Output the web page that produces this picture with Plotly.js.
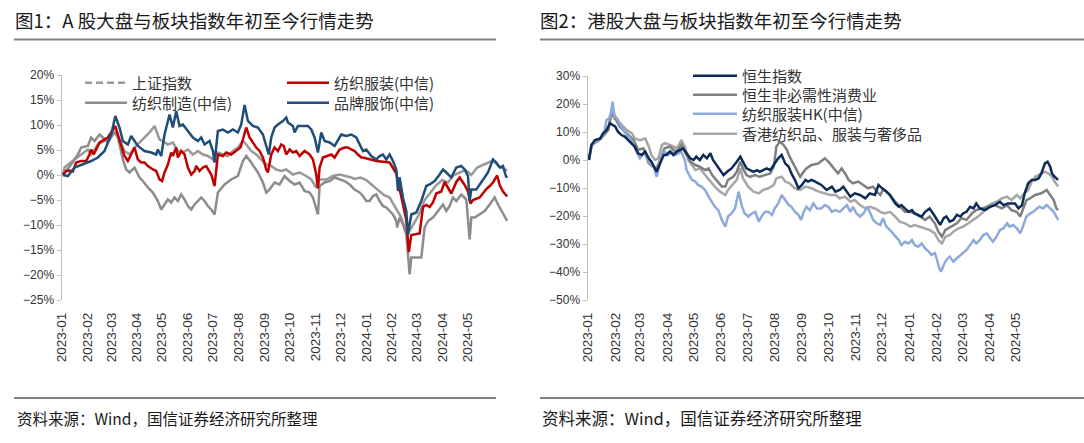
<!DOCTYPE html>
<html><head><meta charset="utf-8">
<script src="https://cdn.plot.ly/plotly-3.0.1.min.js"></script>
<style>
html,body{margin:0;padding:0;background:#fff;width:1084px;height:443px;overflow:hidden}
#c1{position:absolute;left:0;top:0;width:535px;height:443px}
#c2{position:absolute;left:535px;top:0;width:549px;height:443px}
</style></head>
<body><div id="c1"></div><div id="c2"></div>
<script>
// ---------- data: [days since 2023-01-02, % change since start of year] ----------
const monthTickDates = ['2023-01-02','2023-02-02','2023-03-02','2023-04-02','2023-05-02','2023-06-02','2023-07-02','2023-08-02','2023-09-02','2023-10-02','2023-11-02','2023-12-02','2024-01-02','2024-02-02','2024-03-02','2024-04-02','2024-05-02'];
const monthLabels = ['2023-01','2023-02','2023-03','2023-04','2023-05','2023-06','2023-07','2023-08','2023-09','2023-10','2023-11','2023-12','2024-01','2024-02','2024-03','2024-04','2024-05'];

// Figure 1: A-share
const shIndex = [[1,0],[3,1.5],[15,3.1],[23,4.1],[31,5.1],[35,4.1],[43,6.1],[51,6.8],[59,7.8],[63,8.5],[69,7.1],[75,4.8],[81,4.1],[87,5.5],[93,6.5],[99,7.5],[105,8.5],[111,9.8],[114,8.5],[117,7.1],[121,6.8],[127,6.1],[133,6.5],[139,4.8],[145,4.5],[151,5.1],[157,4.1],[163,4.8],[169,4.1],[175,3.8],[181,3.1],[187,4.5],[193,4.1],[199,3.8],[205,4.8],[211,5.5],[217,6.8],[221,6.1],[227,4.8],[233,4.1],[239,3.1],[245,2.1],[251,1.8],[257,1.1],[263,0.8],[269,1.1],[277,0.1],[285,0.5],[293,-0.2],[299,-0.9],[305,-2.5],[309,-0.9],[317,-0.9],[325,-0.2],[333,0.1],[341,-0.2],[347,-0.5],[351,-0.8],[358,-0.5],[365,-1.0],[372,-2.0],[379,-3.0],[386,-4.0],[393,-4.5],[400,-6.5],[407,-8.5],[414,-12.0],[421,-10.0],[428,-8.0],[435,-5.0],[442,-3.5],[449,-2.0],[456,-1.0],[463,-1.5],[470,0.0],[477,0.5],[484,1.0],[491,0.0],[498,1.5],[509,2.3],[517,2.9],[525,1.6],[534,0.9]];
const textileMfg = [[1,0],[11,2.1],[19,4.1],[23,5.5],[31,5.8],[35,7.5],[39,6.8],[45,8.1],[49,7.5],[55,6.5],[61,8.1],[65,8.8],[69,6.1],[73,3.1],[77,1.1],[81,0.5],[87,1.5],[93,-0.5],[97,-1.2],[103,-2.5],[109,-3.5],[115,-5.2],[119,-6.9],[123,-5.9],[127,-4.9],[131,-5.5],[135,-4.5],[139,-5.2],[143,-3.9],[147,-4.9],[151,-6.2],[155,-6.9],[159,-5.9],[163,-5.2],[167,-4.5],[171,-5.2],[175,-6.2],[179,-6.9],[183,-7.9],[187,-3.5],[195,-1.9],[203,-0.9],[211,-0.2],[217,2.8],[221,3.8],[227,2.5],[235,0.5],[241,-1.5],[245,-3.5],[249,-2.9],[255,-1.5],[261,-1.9],[267,-0.2],[273,-1.2],[279,-1.9],[285,-1.5],[291,-3.2],[297,-3.5],[301,-4.5],[307,-7.9],[309,-2.2],[315,-1.5],[321,-1.2],[327,-0.5],[333,-0.9],[339,-1.2],[345,-1.9],[351,-2.9],[357,-3.5],[361,-4.2],[365,-5.2],[369,-5.2],[373,-4.2],[377,-3.9],[381,-5.2],[385,-6.2],[389,-6.5],[393,-7.2],[397,-7.9],[401,-9.2],[402,-10.5],[405,-8.5],[409,-9.9],[413,-11.9],[415,-15.9],[417,-19.9],[419,-16.5],[425,-16.5],[431,-16.5],[435,-10.5],[439,-9.2],[445,-8.5],[451,-7.2],[457,-5.9],[461,-7.2],[465,-6.2],[469,-4.5],[473,-5.2],[479,-3.9],[485,-4.9],[489,-12.9],[491,-8.5],[495,-8.5],[501,-7.9],[507,-7.2],[513,-5.9],[519,-4.5],[523,-5.9],[527,-7.2],[531,-8.5],[534,-9.2]];
const textileApparel = [[1,0],[5,0.8],[9,0.9],[13,0.7],[17,2.5],[23,2.8],[29,2.8],[33,4.1],[35,5.1],[38,4.1],[41,5.1],[45,6.5],[55,7.5],[64,9.8],[67,8.1],[71,6.1],[75,3.8],[79,2.8],[83,4.1],[87,5.5],[91,3.1],[95,2.5],[99,2.5],[103,1.8],[109,1.1],[113,0.8],[117,-0.9],[120,-1.2],[123,0.5],[127,2.1],[131,4.5],[133,3.8],[137,5.5],[139,3.5],[143,4.8],[147,4.1],[151,1.5],[155,0.1],[159,0.8],[161,1.8],[165,0.8],[169,1.5],[173,1.8],[179,0.1],[183,-2.2],[187,4.1],[193,3.8],[197,4.5],[203,4.1],[209,4.8],[214,5.5],[217,7.1],[221,9.5],[225,7.5],[229,6.5],[233,5.5],[237,4.8],[241,3.5],[245,1.1],[247,0.5],[251,4.1],[255,5.5],[259,4.8],[263,6.1],[266,5.8],[269,4.1],[273,5.1],[277,4.5],[281,4.8],[285,3.8],[291,4.8],[297,4.1],[301,3.1],[305,0.1],[307,-2.7],[309,1.5],[313,3.5],[319,3.8],[323,4.1],[327,3.5],[333,5.1],[339,5.5],[343,5.5],[347,5.1],[351,4.8],[355,4.1],[359,3.5],[361,3.5],[377,2.8],[393,2.5],[401,0.3],[413,-9.0],[416,-15.4],[419,-12.0],[429,-11.7],[433,-6.4],[437,-6.0],[441,-6.4],[445,-5.5],[449,-3.7],[455,-3.3],[459,-1.4],[463,-2.5],[467,-3.7],[473,-1.4],[477,-0.5],[483,-2.0],[487,-3.3],[490,-5.7],[493,-5.0],[501,-4.5],[509,-2.8],[513,-2.2],[517,-1.5],[522,-0.1],[525,-2.0],[529,-3.3],[534,-4.3]];
const brandApparel = [[1,0],[7,-0.2],[15,1.5],[25,2.1],[35,2.8],[43,3.5],[51,4.8],[59,8.1],[64,11.8],[69,9.5],[73,6.8],[79,6.1],[83,7.8],[91,5.8],[99,4.8],[107,4.5],[113,4.1],[115,5.1],[119,3.8],[123,8.1],[129,12.1],[133,9.5],[137,12.8],[141,9.8],[145,10.1],[151,8.8],[157,7.5],[163,6.8],[167,7.5],[171,6.1],[177,6.8],[181,4.8],[183,2.5],[187,8.8],[193,9.1],[199,8.5],[205,9.1],[211,8.5],[215,10.1],[219,14.0],[223,10.8],[229,9.8],[235,9.5],[241,8.1],[245,5.5],[248,4.1],[251,7.5],[255,9.5],[259,10.1],[265,10.8],[269,11.5],[271,10.5],[277,9.8],[279,8.5],[283,9.8],[291,9.8],[295,9.8],[299,9.1],[303,7.5],[307,4.5],[311,8.5],[315,6.8],[321,6.5],[327,5.8],[331,7.1],[335,8.1],[341,7.8],[347,8.1],[353,7.5],[357,6.1],[361,4.8],[365,5.1],[371,3.8],[377,3.1],[381,3.8],[385,4.1],[389,3.1],[393,4.1],[397,2.8],[401,1.1],[403,-3.2],[405,-0.5],[409,-4.5],[413,-7.2],[415,-11.9],[419,-7.9],[425,-7.5],[431,-5.2],[437,-2.2],[441,-1.9],[447,-1.2],[453,0.1],[457,1.1],[461,0.5],[467,-0.5],[473,1.5],[479,1.8],[483,1.1],[487,-0.2],[489,-5.2],[491,-2.9],[497,-2.9],[501,-1.9],[507,-0.5],[511,0.5],[517,3.1],[521,2.5],[525,1.5],[529,1.8],[533,-0.5],[534,-0.2]];

// Figure 2: Hong Kong
const hangSeng = [[1,0],[4,5.4],[8,7.1],[14,7.7],[17,9.5],[21,10.7],[25,13.1],[31,11.9],[34,10.1],[38,8.9],[42,8.3],[46,7.1],[50,6.0],[53,4.8],[57,2.4],[61,1.8],[65,3.0],[69,0.6],[72,-0.6],[76,-3.0],[78,-4.2],[82,-1.2],[86,1.8],[89,1.8],[93,3.0],[97,1.8],[101,3.0],[105,3.6],[108,4.2],[112,2.4],[116,0.6],[120,0],[123,1.2],[127,0],[131,1.8],[135,0.6],[139,2.4],[142,0],[146,-1.8],[150,-3.6],[154,-5.4],[158,-4.2],[163,-3.0],[169,-0.6],[173,1.2],[176,-0.6],[180,-3.0],[184,-3.6],[188,-4.2],[192,-3.6],[195,-4.2],[199,-3.6],[203,-3.0],[207,-3.6],[211,-1.8],[216,0.6],[220,1.8],[224,-1.2],[228,-2.4],[231,-4.8],[235,-7.1],[239,-10.1],[243,-8.9],[247,-7.1],[250,-7.7],[254,-7.1],[258,-7.7],[262,-8.3],[265,-8.9],[271,-10.7],[277,-9.5],[281,-11.3],[286,-10.7],[290,-9.5],[294,-11.3],[298,-13.1],[303,-11.9],[309,-12.5],[315,-13.7],[320,-11.9],[326,-12.5],[330,-8.9],[334,-10.1],[337,-10.7],[343,-12.5],[349,-15.5],[353,-16.7],[356,-16.1],[360,-17.3],[364,-18.5],[368,-17.9],[371,-19.1],[375,-19.6],[379,-20.2],[383,-18.5],[388,-17.3],[392,-19.1],[396,-21.4],[400,-23.2],[404,-20.8],[407,-20.2],[411,-22.0],[415,-21.4],[419,-19.6],[423,-20.2],[426,-19.1],[430,-18.5],[434,-16.7],[438,-17.3],[441,-15.5],[445,-17.3],[451,-17.9],[457,-16.7],[462,-16.1],[468,-14.9],[472,-16.1],[477,-15.5],[485,-15.5],[489,-17.3],[493,-16.1],[496,-11.9],[500,-8.3],[504,-7.1],[508,-7.1],[512,-6.5],[515,-4.8],[519,-1.2],[522,-0.6],[525,-2.4],[527,-4.8],[530,-6.0],[534,-7.1]];
const hsConsDisc = [[1,0],[4,5.4],[12,7.1],[17,8.9],[23,10.7],[27,17.3],[29,15.5],[33,13.7],[36,11.9],[40,10.7],[46,8.9],[52,7.1],[57,3.6],[63,4.2],[69,-1.2],[74,-2.4],[78,-3.0],[82,0],[87,4.2],[93,4.8],[97,3.6],[101,3.0],[106,5.4],[110,3.0],[116,-0.6],[122,-1.8],[127,-2.4],[133,-3.6],[137,-3.0],[141,-5.4],[146,-7.1],[152,-9.5],[156,-9.5],[159,-7.1],[165,-6.0],[169,-4.2],[173,-0.6],[176,-3.0],[180,-5.4],[184,-6.0],[190,-5.4],[195,-6.0],[201,-5.4],[207,-4.8],[211,-2.4],[214,4.8],[218,6.5],[222,5.4],[226,3.6],[229,1.2],[233,-1.2],[237,-3.6],[241,-6.0],[245,-4.2],[248,-3.0],[254,-1.8],[262,-1.2],[264,-0.6],[269,0.6],[273,-0.6],[279,-3.0],[284,-4.8],[288,-3.0],[292,-4.8],[296,-7.1],[301,-8.3],[307,-7.7],[313,-8.9],[318,-10.1],[324,-9.5],[328,-11.3],[332,-12.5],[335,-10.7],[339,-11.3],[343,-12.5],[349,-14.9],[354,-16.7],[360,-18.5],[366,-18.5],[371,-19.1],[377,-20.2],[383,-21.4],[388,-20.2],[394,-22.6],[398,-25.6],[402,-27.4],[406,-25.0],[409,-24.4],[413,-23.8],[419,-22.6],[424,-20.8],[430,-21.4],[436,-19.1],[441,-17.9],[447,-17.3],[455,-16.7],[462,-16.1],[470,-17.3],[476,-16.1],[481,-17.9],[487,-18.5],[491,-20.2],[494,-17.9],[498,-14.3],[502,-13.7],[508,-12.5],[515,-11.9],[521,-10.7],[525,-12.5],[529,-14.3],[532,-17.3],[534,-17.9]];
const hkTextileCiti = [[1,0],[4,4.8],[8,6.6],[14,7.7],[17,8.9],[19,10.7],[21,14.3],[24,14.9],[26,16.7],[28,20.8],[30,15.5],[33,14.9],[36,13.1],[40,10.7],[44,8.9],[48,7.7],[52,5.4],[55,3.0],[59,0.6],[63,2.4],[67,1.2],[70,-1.2],[74,-1.8],[78,-6.0],[81,-1.8],[84,1.8],[87,3.0],[91,1.8],[95,3.0],[99,1.8],[103,2.4],[106,3.0],[110,0],[112,-3.6],[115,-5.4],[118,-7.1],[122,-7.7],[125,-8.9],[129,-9.5],[133,-10.7],[137,-13.1],[141,-14.9],[144,-16.7],[148,-17.9],[152,-21.4],[156,-23.8],[159,-20.2],[163,-19.1],[167,-17.3],[171,-11.3],[175,-16.7],[178,-19.1],[182,-20.2],[186,-19.1],[190,-18.5],[194,-22.0],[197,-20.2],[201,-18.5],[205,-18.5],[209,-19.6],[212,-17.3],[216,-15.5],[220,-12.5],[224,-14.3],[228,-16.1],[231,-16.7],[235,-18.5],[239,-19.6],[242,-21.4],[245,-18.5],[248,-16.7],[252,-17.9],[256,-15.5],[260,-17.3],[265,-17.3],[269,-16.1],[273,-16.7],[277,-18.5],[281,-17.9],[286,-18.5],[290,-17.3],[294,-16.1],[298,-18.5],[301,-16.7],[305,-19.1],[309,-20.2],[313,-19.1],[317,-16.7],[320,-18.5],[324,-21.4],[328,-22.6],[332,-23.2],[335,-20.8],[339,-23.8],[343,-25.0],[349,-27.4],[353,-28.6],[356,-30.4],[360,-29.2],[364,-29.8],[368,-28.6],[371,-30.4],[375,-31.0],[379,-29.8],[383,-31.6],[387,-32.7],[390,-33.9],[394,-33.3],[396,-35.1],[399,-38.7],[401,-39.9],[404,-37.5],[407,-35.7],[411,-34.5],[415,-36.3],[419,-35.1],[423,-33.9],[426,-33.3],[430,-32.1],[434,-30.4],[438,-28.6],[441,-29.8],[445,-28.6],[449,-26.8],[453,-26.2],[457,-28.0],[460,-29.2],[464,-27.4],[468,-25.0],[472,-24.4],[476,-22.6],[479,-23.8],[483,-23.2],[487,-24.4],[491,-26.2],[494,-23.8],[498,-20.2],[502,-19.1],[506,-18.5],[510,-17.3],[513,-16.7],[517,-17.3],[521,-16.1],[525,-17.3],[529,-18.5],[532,-20.2],[534,-21.4]];
const hkTextileLux = [[1,0],[4,5.4],[12,6.9],[17,8.3],[23,10.7],[27,18.5],[33,14.3],[38,12.5],[44,10.7],[50,9.5],[53,7.7],[59,7.1],[65,7.7],[69,4.8],[72,1.8],[76,0],[80,0.6],[84,5.4],[87,6.0],[93,5.4],[97,4.8],[101,4.2],[106,7.1],[110,4.8],[114,0],[118,-1.8],[122,-3.6],[127,-3.0],[133,-5.4],[139,-7.7],[144,-9.5],[150,-11.3],[156,-12.5],[159,-10.7],[165,-8.3],[169,-7.1],[173,-3.0],[176,-6.5],[182,-9.5],[188,-11.3],[194,-11.9],[199,-10.7],[205,-10.1],[211,-8.9],[214,-6.5],[220,-6.0],[224,-7.7],[229,-8.3],[235,-10.1],[241,-10.7],[247,-9.5],[254,-10.1],[262,-11.3],[269,-11.9],[275,-12.5],[281,-12.5],[286,-13.7],[292,-13.1],[298,-14.9],[303,-14.3],[309,-16.1],[315,-17.3],[320,-16.7],[326,-17.3],[332,-18.5],[337,-19.1],[343,-18.5],[349,-20.2],[354,-22.0],[360,-22.6],[366,-23.8],[371,-23.2],[377,-23.8],[383,-24.4],[388,-25.0],[394,-26.2],[398,-28.6],[402,-29.8],[406,-27.4],[411,-26.8],[415,-25.6],[421,-24.4],[426,-23.8],[432,-22.6],[438,-21.4],[443,-20.2],[449,-18.5],[453,-16.7],[459,-15.5],[464,-14.9],[470,-13.7],[476,-13.1],[481,-14.3],[487,-12.5],[491,-13.7],[494,-12.5],[500,-10.7],[504,-7.7],[508,-6.0],[512,-5.4],[515,-4.8],[519,-4.2],[523,-4.8],[527,-6.0],[530,-7.7],[534,-9.5]];

const names1 = ['上证指数','纺织服装(中信)','纺织制造(中信)','品牌服饰(中信)'];
const names2 = ['恒生指数','恒生非必需性消费业','纺织服装HK(中信)','香港纺织品、服装与奢侈品'];
const title1 = '图1：A 股大盘与板块指数年初至今行情走势';
const title2 = '图2：港股大盘与板块指数年初至今行情走势';
const sourceText = '资料来源：Wind，国信证券经济研究所整理';

// ---------- helpers ----------
const DAY = 86400000;
const T0 = Date.UTC(2023, 0, 2);
const toDate = d => new Date(T0 + d * DAY).toISOString().slice(0, 10);
const xs = s => s.map(p => toDate(p[0]));
const ys = s => s.map(p => p[1]);

const CJK = 'Noto Sans CJK SC, sans-serif';
const NUM = 'Liberation Sans, Arial, sans-serif';
const H = 443;
const xRange = ['2023-01-02','2024-06-20'];

function frame(W, L, R, T, B) {
  const w = W - L - R, h = H - T - B;
  return {W, L, R, T, B, w, h,
    xp: px => (px - L) / w,
    yp: py => (H - B - py) / h};
}
function legendKey(i) { return i === 0 ? 'legend' : 'legend' + (i + 1); }

function baseLayout(f, yr, dt, title, legendDefs, lineX0, lineX1, textX, srcSize) {
  const lay = {
    width: f.W, height: H,
    margin: {l: f.L, r: f.R, t: f.T, b: f.B, pad: 0},
    paper_bgcolor: '#fff', plot_bgcolor: '#fff',
    showlegend: true,
    title: {text: title, x: textX / f.W, xref: 'container', xanchor: 'left',
            y: 1 - 22 / H, yref: 'container', yanchor: 'middle',
            font: {family: CJK, size: 18.5, color: '#1a1a1a'}},
    xaxis: {type: 'date', range: xRange, tickmode: 'array', tickvals: monthTickDates, ticktext: monthLabels,
            tickangle: -90, showline: false, showgrid: false, zeroline: false, ticks: '',
            ticklabelstandoff: 9,
            tickfont: {family: NUM, size: 13.5, color: '#333'}},
    xaxis2: {type: 'date', range: xRange, overlaying: 'x', anchor: 'free',
             position: (0 - yr[0]) / (yr[1] - yr[0]),
             showline: true, linecolor: '#d4d4d4', linewidth: 1.5,
             ticks: 'outside', ticklen: 5, tickcolor: '#c8c8c8', tickwidth: 1,
             tick0: '2023-01-02', dtick: 32 * DAY,
             showticklabels: false, showgrid: false, zeroline: false},
    yaxis: {range: yr, dtick: dt, ticksuffix: '%', showline: true, linecolor: '#bfbfbf', linewidth: 1.5,
            ticks: 'outside', ticklen: 4, tickcolor: '#bfbfbf', showgrid: false, zeroline: false,
            tickfont: {family: NUM, size: 12, color: '#333'}},
    shapes: [
      {type: 'line', xref: 'paper', yref: 'paper', x0: f.xp(lineX0), x1: f.xp(lineX1), y0: f.yp(39.5), y1: f.yp(39.5),
       line: {color: '#808080', width: 2}},
      {type: 'line', xref: 'paper', yref: 'paper', x0: f.xp(lineX0), x1: f.xp(lineX1), y0: f.yp(398), y1: f.yp(398),
       line: {color: '#808080', width: 2}}
    ],
    annotations: [
      {text: sourceText, xref: 'paper', yref: 'paper', x: f.xp(textX), y: f.yp(418),
       xanchor: 'left', yanchor: 'middle', showarrow: false,
       font: {family: CJK, size: srcSize, color: '#1a1a1a'}}
    ]
  };
  legendDefs.forEach((d, i) => {
    lay[legendKey(i)] = {
      orientation: 'v', x: f.xp(d.x), y: f.yp(d.cy - 15.5), xanchor: 'left', yanchor: 'top',
      bgcolor: 'rgba(0,0,0,0)', borderwidth: 0, itemwidth: d.iw, tracegroupgap: 0,
      font: {family: CJK, size: 15, color: '#333'}
    };
  });
  return lay;
}

function line(series, name, color, extra) {
  return Object.assign({x: xs(series), y: ys(series), type: 'scatter', mode: 'lines', name: name,
    line: {color: color, width: 2.5}}, extra || {});
}

// ---------- figure 1 ----------
const f1 = frame(535, 62, 27, 75, 143);
const traces1 = [
  line(shIndex, names1[0], '#999999', {showlegend: false}),
  {x: [null], y: [null], type: 'scatter', mode: 'lines', name: names1[0], legend: 'legend',
   line: {color: '#999999', width: 2.5, dash: '7px,4px'}},
  line(textileMfg, names1[2], '#8c8c8c', {legend: 'legend2'}),
  line(textileApparel, names1[1], '#c00000', {legend: 'legend3'}),
  line(brandApparel, names1[3], '#1f4e79', {legend: 'legend4'})
];
const lay1 = baseLayout(f1, [-25, 20], 5, title1,
  [{x: 80, cy: 82, iw: 42}, {x: 80, cy: 102, iw: 42}, {x: 282, cy: 82, iw: 42}, {x: 282, cy: 102, iw: 42}],
  14, 496, 15, 15.5);

// ---------- figure 2 ----------
const f2 = frame(549, 53, 25, 76, 143);
const traces2 = [
  line(hkTextileLux, names2[3], '#a6a6a6', {legend: 'legend4'}),
  line(hsConsDisc, names2[1], '#7f7f7f', {legend: 'legend2'}),
  line(hkTextileCiti, names2[2], '#8eaadb', {legend: 'legend3'}),
  line(hangSeng, names2[0], '#0d2b57', {legend: 'legend'})
];
const lay2 = baseLayout(f2, [-50, 30], 10, title2,
  [{x: 153, cy: 75, iw: 44}, {x: 153, cy: 94, iw: 44}, {x: 153, cy: 113, iw: 44}, {x: 153, cy: 133, iw: 44}],
  5, 549, 5, 16.5);

const cfg = {staticPlot: true, displayModeBar: false};
Plotly.newPlot('c1', traces1, lay1, cfg);
Plotly.newPlot('c2', traces2, lay2, cfg);
</script>
</body></html>
